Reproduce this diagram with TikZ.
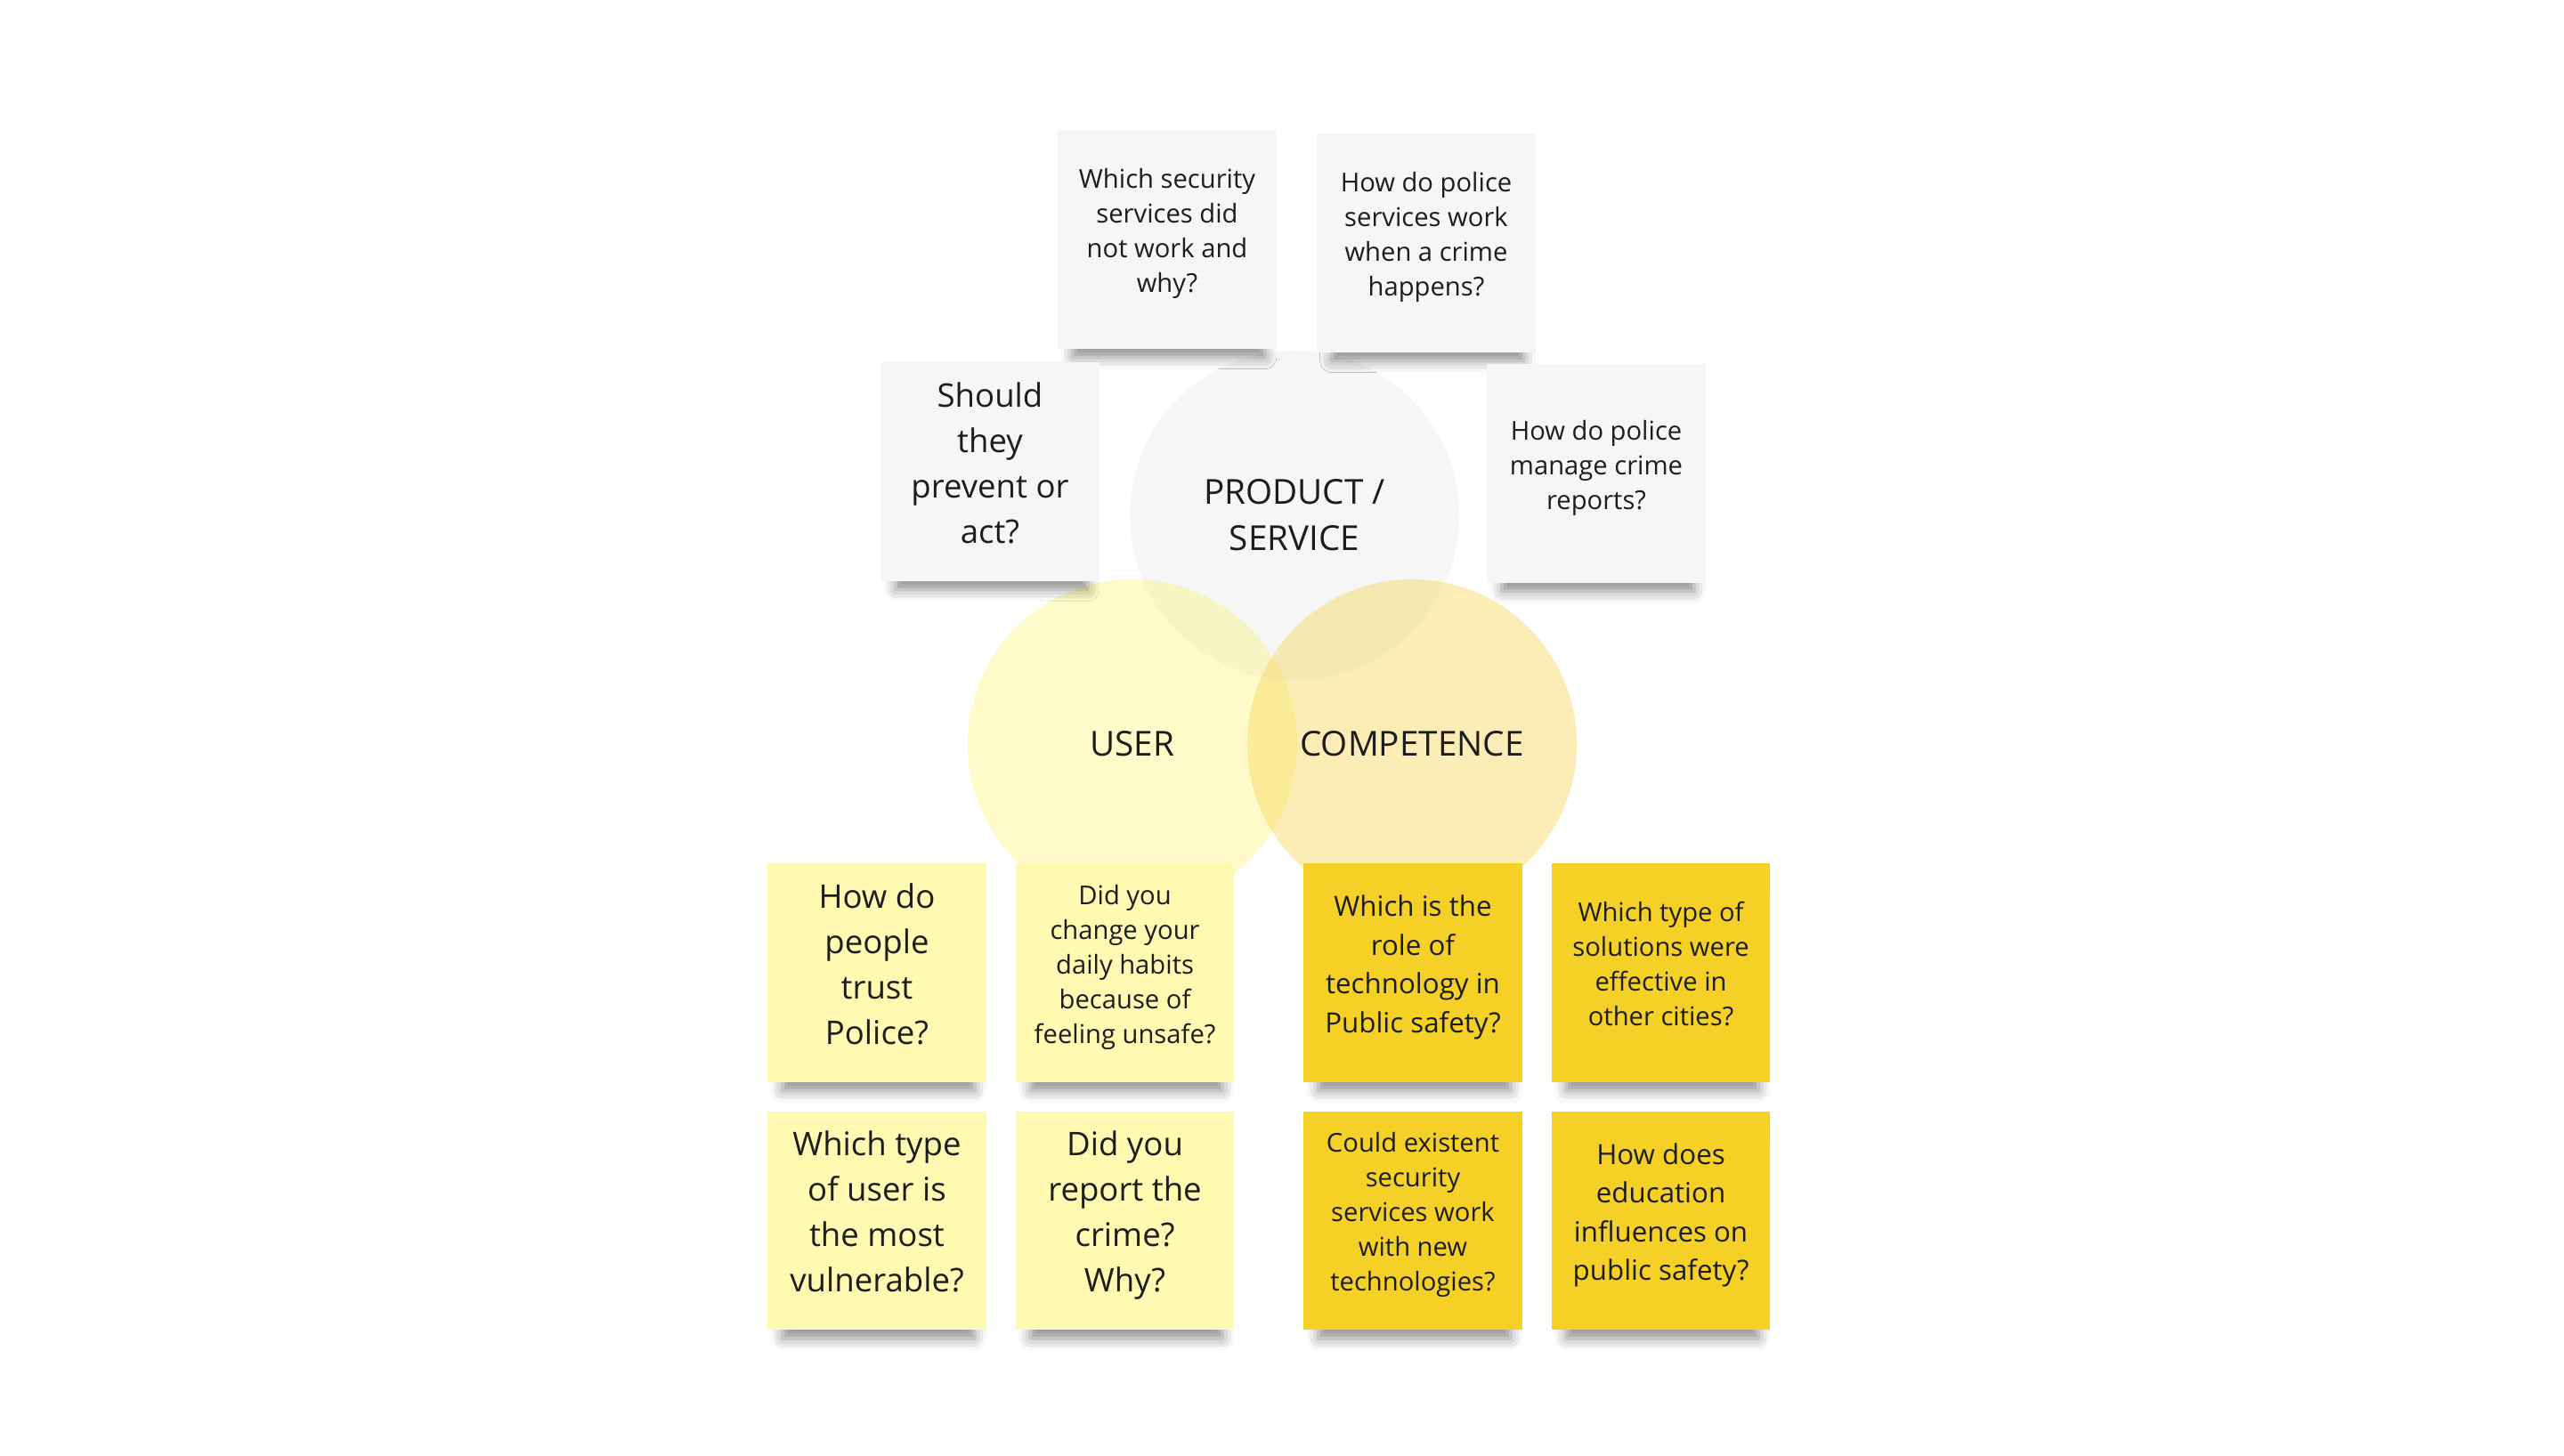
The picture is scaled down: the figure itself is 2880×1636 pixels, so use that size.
\documentclass[tikz,border=0pt]{standalone}
\usepackage{fontspec}
\setmainfont{Open Sans}
\usetikzlibrary{positioning,shadows.blur}
\definecolor{notegray}{HTML}{F5F6F8}
\definecolor{noteyellow}{HTML}{FFF9B1}
\definecolor{notegold}{HTML}{F5D128}
\definecolor{prodgray}{HTML}{F6F6F7}
\definecolor{useryellow}{RGB}{252,238,75}
\definecolor{compgold}{RGB}{248,215,93}
\definecolor{ink}{HTML}{1D1D1D}

\begin{document}
\begin{tikzpicture}[
 x=0.01cm,y=-0.01cm,
 node distance=3.2mm and 3.2mm,
 note/.style={minimum width=2.45cm,minimum height=2.45cm,inner sep=0pt,
              align=center,text=ink,text depth=2mm,
              blur shadow={shadow xshift=0.2mm,shadow yshift=-2.8mm,shadow scale=0.88,
                           shadow blur radius=1.5mm,shadow opacity=45}},
 small/.style={font=\fontsize{8.3}{11.1}\selectfont},
 mid/.style={font=\fontsize{8.9}{12.4}\selectfont},
 big/.style={font=\fontsize{10.4}{14.5}\selectfont},
 ring/.style={circle,minimum size=3.7cm,inner sep=0pt,align=center,text=ink,
              text opacity=1,font=\fontsize{11}{14.7}\selectfont}
]
\useasboundingbox (0,0) rectangle (2880,1636);
% circles
\node[ring,fill=prodgray] (product) at (1454,579) {PRODUCT /\\SERVICE};
\node[ring,fill=useryellow,fill opacity=0.3] (user) at (1272,836) {USER};
\node[ring,fill=compgold,fill opacity=0.45] (comp) at (1586,836) {COMPETENCE};
% product / service notes
\node[note,small,fill=notegray] (secfail) at (1311,269) {Which security\\services did\\not work and\\why?};
\node[note,small,fill=notegray] (policework) at (1602,273) {How do police\\services work\\when a crime\\happens?};
\node[note,big,fill=notegray] (prevent) at (1112,530) {Should\\they\\prevent or\\act?};
\node[note,small,fill=notegray] (reports) at (1793,532) {How do police\\manage crime\\reports?};
% user notes
\node[note,big,fill=noteyellow] (trust) at (985,1093) {How do\\people\\trust\\Police?};
\node[note,small,fill=noteyellow,right=of trust] (habits) {Did you\\change your\\daily habits\\because of\\feeling unsafe?};
\node[note,big,fill=noteyellow,below=of trust] (vulnerable) {Which type\\of user is\\the most\\vulnerable?};
\node[note,big,fill=noteyellow,below=of habits] (report) {Did you\\report the\\crime?\\Why?};
% competence notes
\node[note,mid,fill=notegold] (techrole) at (1587,1093) {Which is the\\role of\\technology in\\Public safety?};
\node[note,small,fill=notegold,right=of techrole] (cities) {Which type of\\solutions were\\effective in\\other cities?};
\node[note,small,fill=notegold,below=of techrole] (newtech) {Could existent\\security\\services work\\with new\\technologies?};
\node[note,mid,fill=notegold,below=of cities] (education) {How does\\education\\influences on\\public safety?};
\end{tikzpicture}
\end{document}
